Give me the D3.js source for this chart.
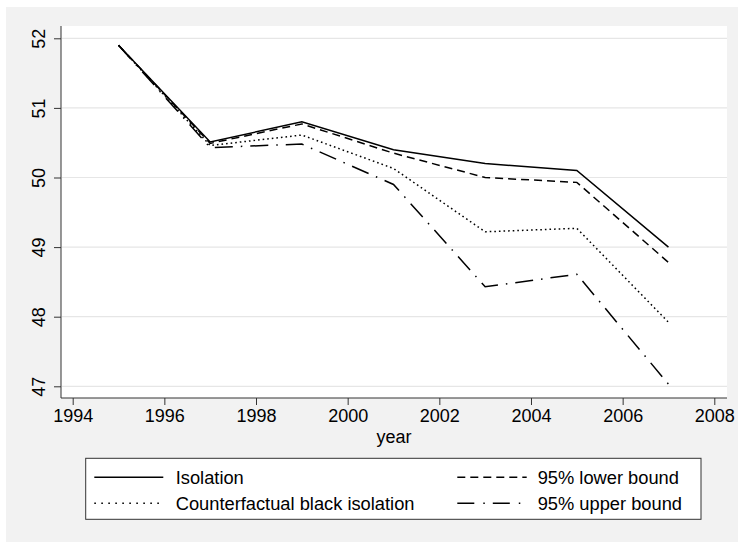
<!DOCTYPE html>
<html>
<head>
<meta charset="utf-8">
<script src="https://cdn.jsdelivr.net/npm/d3@7"></script>
<style>
  html, body { margin: 0; padding: 0; background: #ffffff; }
  svg { display: block; }
  text { font-family: "Liberation Sans", Arial, Helvetica, sans-serif; fill: #000; }
</style>
</head>
<body>
<svg id="chart" width="738" height="542"></svg>
<script>
// Survey years and the four series (isolation index)
const years = [1995, 1997, 1999, 2001, 2003, 2005, 2007];
const isolation = [51.9, 50.51, 50.80, 50.40, 50.20, 50.10, 49.00];
const lowerBound = [51.9, 50.49, 50.77, 50.35, 50.00, 49.93, 48.78];
const counterfactual = [51.9, 50.46, 50.61, 50.13, 49.22, 49.27, 47.92];
const upperBound = [51.9, 50.43, 50.48, 49.90, 48.43, 48.61, 47.03];

const xTicks = [1994, 1996, 1998, 2000, 2002, 2004, 2006, 2008];
const yTicks = [47, 48, 49, 50, 51, 52];

const seriesNames = ["Isolation", "95% lower bound", "Counterfactual black isolation", "95% upper bound"];

const svg = d3.select("#chart");

// outer graph region
svg.append("rect")
  .attr("x", 6).attr("y", 7)
  .attr("width", 732).attr("height", 535)
  .attr("fill", "#f2f2f2");

const plot = { left: 61, right: 727, top: 26, bottom: 398 };

svg.append("rect")
  .attr("x", plot.left).attr("y", plot.top)
  .attr("width", plot.right - plot.left).attr("height", plot.bottom - plot.top)
  .attr("fill", "#ffffff");

const x = d3.scaleLinear().domain([1994, 2008]).range([72.7, 714.3]);
const y = d3.scaleLinear().domain([47, 52]).range([386.3, 38.3]);

// horizontal grid
svg.append("g")
  .selectAll("line")
  .data(yTicks)
  .join("line")
  .attr("x1", plot.left + 1).attr("x2", plot.right)
  .attr("y1", d => y(d)).attr("y2", d => y(d))
  .attr("stroke", "#e6e6e6")
  .attr("stroke-width", 1.2);

// y axis
const yAxis = svg.append("g")
  .attr("transform", `translate(${plot.left},0)`)
  .call(d3.axisLeft(y).tickValues(yTicks).tickSize(7).tickPadding(0).tickFormat(d3.format("d")));
yAxis.select(".domain").attr("d", `M0,${plot.top}V${plot.bottom}`).attr("stroke", "#333");
yAxis.selectAll(".tick line").attr("stroke", "#333");
yAxis.selectAll(".tick text")
  .attr("x", 0).attr("y", 0).attr("dy", null)
  .attr("transform", "translate(-22.5,0) rotate(-90)")
  .attr("text-anchor", "middle")
  .attr("dominant-baseline", "central")
  .style("font-size", "18px")
  .style("font-family", "'Liberation Sans', Arial, sans-serif")
  .attr("fill", "#000");

// x axis
const xAxis = svg.append("g")
  .attr("transform", `translate(0,${plot.bottom})`)
  .call(d3.axisBottom(x).tickValues(xTicks).tickSize(7).tickPadding(4).tickFormat(d3.format("d")));
xAxis.select(".domain").attr("d", `M${plot.left},0H${plot.right}`).attr("stroke", "#333");
xAxis.selectAll(".tick line").attr("stroke", "#333");
xAxis.selectAll(".tick text")
  .style("font-size", "18px")
  .style("font-family", "'Liberation Sans', Arial, sans-serif")
  .attr("fill", "#000");

svg.append("text")
  .attr("x", (plot.left + plot.right) / 2)
  .attr("y", 443)
  .attr("text-anchor", "middle")
  .style("font-size", "18px")
  .text("year");

// series lines
const styles = [
  { values: isolation, dash: null },
  { values: lowerBound, dash: "8,5" },
  { values: counterfactual, dash: "1.6,3" },
  { values: upperBound, dash: "18,8,1.5,8" }
];

const line = d3.line()
  .x((d, i) => x(years[i]))
  .y(d => y(d));

svg.append("g")
  .selectAll("path")
  .data(styles)
  .join("path")
  .attr("d", s => line(s.values))
  .attr("fill", "none")
  .attr("stroke", "#000")
  .attr("stroke-width", 1.5)
  .attr("stroke-dasharray", s => s.dash);

// legend
const legend = svg.append("g");
legend.append("rect")
  .attr("x", 85.7).attr("y", 458.3)
  .attr("width", 701 - 85.7).attr("height", 519.3 - 458.3)
  .attr("fill", "#fff")
  .attr("stroke", "#333")
  .attr("stroke-width", 1);

const legendItems = [
  { name: seriesNames[0], dash: null, col: 0, row: 0 },
  { name: seriesNames[1], dash: "8,5", col: 1, row: 0 },
  { name: seriesNames[2], dash: "1.6,5.4", col: 0, row: 1 },
  { name: seriesNames[3], dash: "17,9,1.5,8", col: 1, row: 1 }
];
const colX = [{ x0: 94.3, x1: 163.3, tx: 175.7 }, { x0: 457.3, x1: 526.7, tx: 537.7 }];
const rowY = [477.3, 503.3];

const items = legend.selectAll("g.item")
  .data(legendItems)
  .join("g")
  .attr("class", "item");
items.append("line")
  .attr("x1", d => colX[d.col].x0).attr("x2", d => colX[d.col].x1)
  .attr("y1", d => rowY[d.row]).attr("y2", d => rowY[d.row])
  .attr("stroke", "#000")
  .attr("stroke-width", 1.5)
  .attr("stroke-dasharray", d => d.dash);
items.append("text")
  .attr("x", d => colX[d.col].tx)
  .attr("y", d => rowY[d.row])
  .attr("dominant-baseline", "central")
  .style("font-size", "18.3px")
  .text(d => d.name);
</script>
</body>
</html>
